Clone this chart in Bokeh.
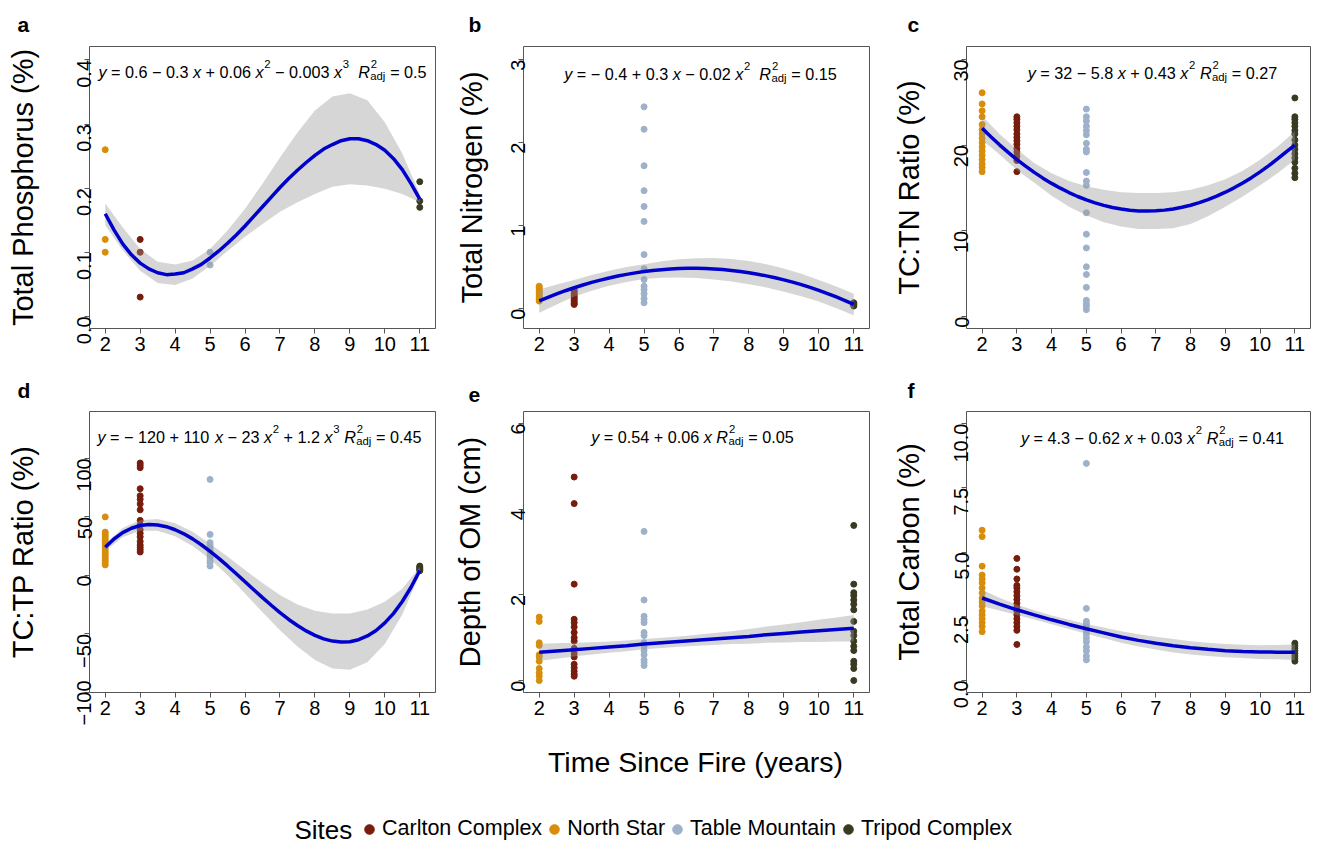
import math
import numpy as np
from bokeh.plotting import figure
from bokeh.layouts import column, row
from bokeh.models import (Label, Legend, LegendItem, FixedTicker, Range1d,
                          ColumnDataSource, PrintfTickFormatter)
from bokeh.embed import file_html
from bokeh.resources import INLINE

FONT = "Liberation Sans"

SITES = ["Carlton Complex", "North Star", "Table Mountain", "Tripod Complex"]
SITE_YEARS = [3, 2, 5, 11]
SITE_COLORS = ["#761D0D", "#D88D0A", "#9DB1CA", "#3A3A22"]
X_TICKS = [2, 3, 4, 5, 6, 7, 8, 9, 10, 11]
X_TITLE = "Time Since Fire (years)"
LEGEND_TITLE = "Sites"

# confidence-band grid and fine fit grid
BAND_X = [2.0, 2.5, 3.0, 3.5, 4.0, 4.5, 5.0, 5.5, 6.0, 6.5, 7.0, 7.5, 8.0, 8.5,
          9.0, 9.5, 10.0, 10.5, 11.0]
FINE_X = [2.0, 2.25, 2.5, 2.75, 3.0, 3.25, 3.5, 3.75, 4.0, 4.25, 4.5, 4.75, 5.0,
          5.25, 5.5, 5.75, 6.0, 6.25, 6.5, 6.75, 7.0, 7.25, 7.5, 7.75, 8.0, 8.25,
          8.5, 8.75, 9.0, 9.25, 9.5, 9.75, 10.0, 10.25, 10.5, 10.75, 11.0]

# ---- a: Total Phosphorus ----
TP_CARLTON = [0.12, 0.10, 0.03]
TP_NORTH = [0.26, 0.12, 0.10]
TP_TABLE = [0.10, 0.08]
TP_TRIPOD = [0.21, 0.18, 0.17]
TP_FIT = [0.160, 0.135, 0.113, 0.096, 0.083, 0.074, 0.068, 0.065, 0.066, 0.068,
          0.074, 0.081, 0.091, 0.102, 0.114, 0.127, 0.141, 0.156, 0.171, 0.186,
          0.201, 0.215, 0.228, 0.240, 0.251, 0.261, 0.268, 0.274, 0.277, 0.277,
          0.274, 0.268, 0.259, 0.246, 0.229, 0.207, 0.183]
TP_HIGH = [0.176, 0.139, 0.105, 0.085, 0.081, 0.087, 0.105, 0.134, 0.168, 0.207,
           0.248, 0.287, 0.321, 0.343, 0.348, 0.337, 0.303, 0.254, 0.191]
TP_LOW = [0.142, 0.103, 0.071, 0.052, 0.049, 0.059, 0.079, 0.102, 0.124, 0.144,
          0.163, 0.178, 0.191, 0.202, 0.206, 0.204, 0.199, 0.191, 0.178]

# ---- b: Total Nitrogen ----
TN_CARLTON = [0.22, 0.20, 0.18, 0.16, 0.14, 0.12, 0.10, 0.08, 0.06, 0.05]
TN_NORTH = [0.27, 0.25, 0.23, 0.21, 0.19, 0.17, 0.15, 0.13, 0.11, 0.09]
TN_TABLE = [2.43, 2.16, 1.72, 1.42, 1.23, 1.05, 0.65, 0.48, 0.35, 0.27, 0.23,
            0.18, 0.12, 0.07]
TN_TRIPOD = [0.07, 0.06, 0.05, 0.04, 0.03]
TN_FIT = [0.092, 0.135, 0.176, 0.215, 0.251, 0.284, 0.315, 0.343, 0.368, 0.392,
          0.412, 0.430, 0.446, 0.458, 0.469, 0.477, 0.482, 0.485, 0.485, 0.482,
          0.477, 0.470, 0.460, 0.447, 0.432, 0.414, 0.394, 0.371, 0.346, 0.318,
          0.288, 0.255, 0.219, 0.181, 0.140, 0.097, 0.051]
TN_HIGH = [0.23, 0.29, 0.345, 0.405, 0.455, 0.50, 0.535, 0.57, 0.593, 0.607, 0.61,
           0.597, 0.573, 0.533, 0.483, 0.419, 0.344, 0.265, 0.18]
TN_LOW = [-0.05, 0.05, 0.145, 0.215, 0.275, 0.32, 0.355, 0.37, 0.373, 0.367, 0.35,
          0.327, 0.293, 0.253, 0.203, 0.149, 0.084, 0.005, -0.08]

# ---- c: TC:TN ratio ----
CN_CARLTON = [23.3, 23.0, 22.6, 22.2, 21.8, 21.3, 20.9, 20.5, 20.1, 19.6, 19.2,
              18.7, 18.2, 16.9]
CN_NORTH = [26.1, 24.8, 24.0, 23.3, 22.4, 21.8, 21.3, 20.8, 20.3, 19.8, 19.3,
            18.8, 18.3, 17.8, 17.4, 16.9]
CN_TABLE = [24.2, 23.3, 22.8, 22.2, 21.7, 21.2, 20.2, 19.5, 19.2, 16.8, 15.8,
            15.3, 12.1, 9.6, 8.0, 5.8, 4.9, 3.4, 1.9, 1.5, 1.2, 0.8]
CN_TRIPOD = [25.5, 23.3, 23.0, 22.6, 22.2, 21.7, 21.3, 20.6, 20.0, 19.5, 19.0,
             18.5, 18.0, 17.3, 16.7, 16.2]
CN_FIT = [21.96, 20.97, 20.03, 19.15, 18.31, 17.54, 16.81, 16.14, 15.53, 14.97,
          14.46, 14.00, 13.60, 13.25, 12.96, 12.72, 12.54, 12.40, 12.32, 12.30,
          12.33, 12.41, 12.55, 12.74, 12.98, 13.28, 13.63, 14.04, 14.50, 15.01,
          15.58, 16.20, 16.87, 17.60, 18.38, 19.21, 20.00]
CN_HIGH = [23.4, 21.3, 19.5, 17.9, 16.7, 15.8, 15.2, 14.8, 14.5, 14.4, 14.4, 14.5,
           14.8, 15.3, 16.0, 17.0, 18.3, 19.8, 21.6]
CN_LOW = [20.6, 18.9, 17.1, 15.6, 14.1, 12.8, 11.8, 11.0, 10.5, 10.2, 10.2, 10.3,
          10.8, 11.7, 12.8, 14.0, 15.3, 16.7, 18.3]

# ---- d: TC:TP ratio ----
CP_CARLTON = [96, 94, 92, 74, 68, 65, 61, 56, 47, 43, 39, 36, 33, 29, 26, 24, 22, 20]
CP_NORTH = [50, 37, 35, 33, 31, 29, 27, 25, 23, 21, 19, 17, 15, 13, 11, 9]
CP_TABLE = [82, 35, 28, 26, 24, 22, 20, 17, 15, 13, 11, 8]
CP_TRIPOD = [8, 7, 6, 5, 4]
CP_FIT = [24.0, 31.1, 36.5, 40.3, 42.6, 43.5, 43.1, 41.6, 39.0, 35.5, 31.2, 26.2,
          20.6, 14.6, 8.1, 1.4, -5.4, -12.2, -19.0, -25.5, -31.8, -37.6, -42.8,
          -47.4, -51.2, -54.2, -56.1, -56.9, -56.6, -54.9, -51.7, -47.0, -40.5,
          -32.4, -22.3, -10.1, 4.1]
CP_HIGH = [27.0, 40.5, 47.1, 48.1, 44.5, 37.2, 27.1, 16.1, 4.6, -6.5, -16.8, -24.8,
           -30.2, -32.6, -32.6, -29.2, -22.5, -11.3, 7.1]
CP_LOW = [21.0, 32.5, 38.1, 38.1, 33.5, 25.2, 14.1, 0.1, -15.4, -31.5, -46.8, -60.8,
          -72.2, -79.6, -80.6, -74.2, -58.5, -33.3, 1.1]

# ---- e: Depth of OM ----
OM_CARLTON = [4.75, 4.13, 2.25, 1.43, 1.35, 1.25, 1.12, 1.00, 0.92, 0.75, 0.63,
              0.55, 0.38, 0.30, 0.22, 0.15, 0.10]
OM_NORTH = [1.48, 1.38, 0.88, 0.82, 0.60, 0.55, 0.45, 0.28, 0.18, 0.10, 0.00]
OM_TABLE = [3.48, 1.88, 1.50, 1.42, 1.35, 1.12, 1.05, 0.88, 0.80, 0.70, 0.60,
            0.48, 0.42, 0.35]
OM_TRIPOD = [3.62, 2.25, 2.05, 1.98, 1.88, 1.78, 1.65, 1.38, 1.15, 1.05, 0.92,
             0.80, 0.70, 0.45, 0.38, 0.28, 0.00]
OM_FIT = [0.66, 0.69, 0.72, 0.75, 0.78, 0.81, 0.85, 0.88, 0.91, 0.94, 0.97, 1.00,
          1.03, 1.07, 1.10, 1.13, 1.16, 1.19, 1.22]
OM_HIGH = [0.86, 0.87, 0.88, 0.895, 0.91, 0.935, 0.97, 1.00, 1.03, 1.07, 1.11, 1.15,
           1.20, 1.26, 1.31, 1.36, 1.42, 1.47, 1.53]
OM_LOW = [0.46, 0.51, 0.56, 0.605, 0.65, 0.685, 0.73, 0.76, 0.79, 0.81, 0.83, 0.85,
          0.86, 0.88, 0.89, 0.90, 0.90, 0.91, 0.91]

# ---- f: Total Carbon ----
TC_CARLTON = [4.75, 4.33, 3.95, 3.7, 3.6, 3.45, 3.3, 3.15, 3.0, 2.85, 2.7, 2.55,
              2.4, 2.25, 2.1, 1.95, 1.4]
TC_NORTH = [5.85, 5.6, 4.45, 4.1, 3.95, 3.8, 3.6, 3.4, 3.2, 3.05, 2.9, 2.7, 2.55,
            2.4, 2.25, 2.1, 1.9]
TC_TABLE = [8.45, 2.8, 2.3, 2.2, 2.1, 1.95, 1.8, 1.65, 1.5, 1.3, 1.15, 0.95, 0.8]
TC_TRIPOD = [1.45, 1.35, 1.25, 1.15, 1.05, 0.95, 0.85, 0.75]
TC_FIT = [3.21, 2.97, 2.75, 2.55, 2.36, 2.18, 2.01, 1.85, 1.69, 1.56, 1.45, 1.35,
          1.27, 1.21, 1.16, 1.13, 1.11, 1.10, 1.10]
TC_HIGH = [3.53, 3.22, 2.95, 2.73, 2.53, 2.36, 2.20, 2.06, 1.91, 1.80, 1.70, 1.61,
           1.53, 1.47, 1.42, 1.39, 1.37, 1.38, 1.40]
TC_LOW = [2.89, 2.72, 2.55, 2.37, 2.19, 2.00, 1.82, 1.64, 1.47, 1.32, 1.20, 1.09,
          1.01, 0.95, 0.90, 0.87, 0.83, 0.82, 0.80]

# equation texts (segment, style)
EQ_A = [("y", "i"), (" = 0.6 − 0.3 ", "n"), ("x", "i"), (" + 0.06 ", "n"), ("x", "i"),
        ("2", "sup"), (" − 0.003 ", "n"), ("x", "i"), ("3", "sup"), ("  ", "n"),
        ("R", "i"), (("2", "adj"), "supsub"), (" = 0.5", "n")]
EQ_B = [("y", "i"), (" = − 0.4 + 0.3 ", "n"), ("x", "i"), (" − 0.02 ", "n"), ("x", "i"),
        ("2", "sup"), ("  ", "n"), ("R", "i"), (("2", "adj"), "supsub"), (" = 0.15", "n")]
EQ_C = [("y", "i"), (" = 32 − 5.8 ", "n"), ("x", "i"), (" + 0.43 ", "n"), ("x", "i"),
        ("2", "sup"), (" ", "n"), ("R", "i"), (("2", "adj"), "supsub"), (" = 0.27", "n")]
EQ_D = [("y", "i"), (" = − 120 + 110 ", "n"), ("x", "i"), (" − 23 ", "n"), ("x", "i"),
        ("2", "sup"), (" + 1.2 ", "n"), ("x", "i"), ("3", "sup"), (" ", "n"),
        ("R", "i"), (("2", "adj"), "supsub"), (" = 0.45", "n")]
EQ_E = [("y", "i"), (" = 0.54 + 0.06 ", "n"), ("x", "i"), (" ", "n"),
        ("R", "i"), (("2", "adj"), "supsub"), (" = 0.05", "n")]
EQ_F = [("y", "i"), (" = 4.3 − 0.62 ", "n"), ("x", "i"), (" + 0.03 ", "n"), ("x", "i"),
        ("2", "sup"), (" ", "n"), ("R", "i"), (("2", "adj"), "supsub"), (" = 0.41", "n")]

# Arial / Liberation Sans advance widths (per 1000 em)
W = {" ": 278, ".": 278, "=": 584, "+": 584, "−": 584, "x": 500, "y": 500,
     "R": 722, "a": 556, "d": 556, "j": 222}


def tw(s, size):
    return sum(W.get(c, 556) for c in s) * size / 1000.0


def add_text(p, x, y, text, size, italic=False, align="left",
             baseline="alphabetic"):
    p.add_layout(Label(x=x, y=y, x_units="screen", y_units="screen", text=text,
                       text_font=FONT, text_font_size=f"{size:.1f}px",
                       text_font_style="italic" if italic else "normal",
                       text_color="black", text_align=align,
                       text_baseline=baseline))


def add_equation(p, segs, cx, y, F):
    pieces = []
    x = 0.0
    for text, style in segs:
        if style in ("n", "i"):
            run, run_x = "", x
            for ch in text:
                if ch == " ":
                    if run:
                        pieces.append((run_x, 0.0, run, F, style == "i"))
                        run = ""
                    x += tw(ch, F)
                else:
                    if not run:
                        run_x = x
                    run += ch
                    x += tw(ch, F)
            if run:
                pieces.append((run_x, 0.0, run, F, style == "i"))
        elif style == "sup":
            s = 0.7 * F
            pieces.append((x + 0.04 * F, 0.45 * F, text, s, False))
            x += tw(text, s) + 0.04 * F
        else:
            sup, sub = text
            s = 0.7 * F
            pieces.append((x + 0.06 * F, 0.45 * F, sup, s, False))
            pieces.append((x + 0.02 * F, -0.27 * F, sub, s, False))
            x += max(tw(sup, s), tw(sub, s)) + 0.04 * F
    x0 = cx - x / 2.0
    for dx, dy, t, s, it in pieces:
        add_text(p, x0 + dx, y + dy, t, s, italic=it)


COLS = [dict(w=446, bl=89, br=11), dict(w=440, bl=77, br=17), dict(w=430, bl=80, br=6)]
ROWS = [dict(h=367, bt=46, bb=39, ts=21), dict(h=358, bt=44, bb=33, ts=19)]

PANELS = [
    dict(letter="a", ytitle="Total Phosphorus (%)", yr=(-0.019, 0.421),
         yticks=[0.0, 0.1, 0.2, 0.3, 0.4], fmt="%.1f",
         pts=[TP_CARLTON, TP_NORTH, TP_TABLE, TP_TRIPOD], fx=FINE_X,
         fit=TP_FIT, low=TP_LOW, high=TP_HIGH, eq=EQ_A, eqx=173, eqdy=25,
         lx=-72, ts=29),
    dict(letter="b", ytitle="Total Nitrogen (%)", yr=(-0.24, 3.157),
         yticks=[0, 1, 2, 3], fmt=None,
         pts=[TN_CARLTON, TN_NORTH, TN_TABLE, TN_TRIPOD], fx=FINE_X,
         fit=TN_FIT, low=TN_LOW, high=TN_HIGH, eq=EQ_B, eqx=177, eqdy=27,
         lx=-55, ts=14),
    dict(letter="c", ytitle="TC:TN Ratio (%)", yr=(-1.4, 31.5),
         yticks=[0, 10, 20, 30], fmt=None,
         pts=[CN_CARLTON, CN_NORTH, CN_TABLE, CN_TRIPOD], fx=FINE_X,
         fit=CN_FIT, low=CN_LOW, high=CN_HIGH, eq=EQ_C, eqx=186, eqdy=26,
         lx=-59, ts=20),
    dict(letter="d", ytitle="TC:TP Ratio (%)", yr=(-100, 140),
         yticks=[-100, -50, 0, 50, 100], fmt="minus",
         pts=[CP_CARLTON, CP_NORTH, CP_TABLE, CP_TRIPOD], fx=FINE_X,
         fit=CP_FIT, low=CP_LOW, high=CP_HIGH, eq=EQ_D, eqx=170, eqdy=25,
         lx=-72, ts=29),
    dict(letter="e", ytitle="Depth of OM (cm)", yr=(-0.28, 6.28),
         yticks=[0, 2, 4, 6], fmt=None,
         pts=[OM_CARLTON, OM_NORTH, OM_TABLE, OM_TRIPOD], fx=BAND_X,
         fit=OM_FIT, low=OM_LOW, high=OM_HIGH, eq=EQ_E, eqx=169, eqdy=25,
         lx=-55, ts=16),
    dict(letter="f", ytitle="Total Carbon (%)", yr=(-0.47, 10.47),
         yticks=[0.0, 2.5, 5.0, 7.5, 10.0], fmt="%.1f",
         pts=[TC_CARLTON, TC_NORTH, TC_TABLE, TC_TRIPOD], fx=BAND_X,
         fit=TC_FIT, low=TC_LOW, high=TC_HIGH, eq=EQ_F, eqx=186, eqdy=26,
         lx=-59, ts=20),
]

FRAME_GRAY = "#555555"


def make_panel(cfg, rowc, colc):
    fh = rowc["h"] - rowc["bt"] - rowc["bb"]
    p = figure(width=colc["w"], height=rowc["h"], output_backend="svg",
               toolbar_location=None, x_range=Range1d(1.55, 11.45),
               y_range=Range1d(*cfg["yr"]),
               min_border_left=colc["bl"], min_border_right=colc["br"],
               min_border_top=rowc["bt"], min_border_bottom=rowc["bb"])
    p.grid.visible = False
    p.outline_line_color = FRAME_GRAY
    p.outline_line_width = 1

    p.title.text = cfg["letter"]
    p.title.text_font = FONT
    p.title.text_font_size = "21px"
    p.title.text_font_style = "bold"
    p.title.text_color = "black"
    p.title.align = "left"
    p.title.offset = cfg["lx"]
    p.title.standoff = rowc["ts"]

    for ax in (p.xaxis[0], p.yaxis[0]):
        ax.axis_line_color = None
        ax.major_tick_line_color = FRAME_GRAY
        ax.major_tick_out = 5
        ax.major_tick_in = 0
        ax.minor_tick_line_color = None
        ax.major_label_text_font = FONT
        ax.major_label_text_font_size = "20px"
        ax.major_label_text_color = "black"
    p.xaxis[0].major_label_standoff = 3
    p.xaxis[0].ticker = FixedTicker(ticks=X_TICKS)
    ya = p.yaxis[0]
    ya.ticker = FixedTicker(ticks=cfg["yticks"])
    ya.major_label_orientation = math.pi / 2
    ya.major_label_standoff = 0
    ya.axis_label = cfg["ytitle"]
    ya.axis_label_text_font = FONT
    ya.axis_label_text_font_size = "29px"
    ya.axis_label_text_font_style = "normal"
    ya.axis_label_text_color = "black"
    ya.axis_label_standoff = cfg["ts"]
    if cfg["fmt"] == "minus":
        ya.major_label_overrides = {t: str(t).replace("-", "−")
                                    for t in cfg["yticks"] if t < 0}
    elif cfg["fmt"]:
        ya.formatter = PrintfTickFormatter(format=cfg["fmt"])

    for years, color, vals in zip(SITE_YEARS, SITE_COLORS, cfg["pts"]):
        src = ColumnDataSource(dict(x=[years] * len(vals), y=vals))
        p.scatter("x", "y", source=src, size=6, color=color, line_color=color)

    p.varea(x=BAND_X, y1=cfg["low"], y2=cfg["high"], fill_color="#999999",
            fill_alpha=0.4)
    p.line(cfg["fx"], cfg["fit"], line_color="#0000CD", line_width=3.5)

    add_equation(p, cfg["eq"], cfg["eqx"], fh - cfg["eqdy"], 16.2)
    return p


figs = []
for i, cfg in enumerate(PANELS):
    figs.append(make_panel(cfg, ROWS[i // 3], COLS[i % 3]))

# footer: x-axis title and legend
FOOT_H = 118
footer = figure(width=1316, height=FOOT_H, output_backend="svg", toolbar_location=None,
                x_range=Range1d(0, 1316), y_range=Range1d(0, FOOT_H),
                x_axis_location=None, y_axis_location=None,
                min_border_left=0, min_border_right=0, min_border_top=0,
                min_border_bottom=0)
footer.grid.visible = False
footer.outline_line_color = None
add_text(footer, 695, FOOT_H - 36, X_TITLE, 28.5, align="center", baseline="middle")
add_text(footer, 294, 14, LEGEND_TITLE, 26, align="left", baseline="middle")

items = []
for name, color in zip(SITES, SITE_COLORS):
    r = footer.scatter(x=np.array([np.nan]), y=np.array([np.nan]), size=9,
                       color=color, line_color=color)
    items.append(LegendItem(label=name, renderers=[r]))
legend = Legend(items=items, orientation="horizontal", location=(357, 2),
                glyph_width=24, glyph_height=24, label_standoff=1, spacing=0,
                padding=0, margin=0, border_line_color=None,
                background_fill_alpha=0.0,
                label_text_font=FONT, label_text_font_size="21.5px",
                label_text_color="black", label_height=24)
footer.add_layout(legend, "center")

layout = column(row(figs[0], figs[1], figs[2]),
                row(figs[3], figs[4], figs[5]),
                footer)

open("out.html", "w").write(file_html(layout, INLINE))
